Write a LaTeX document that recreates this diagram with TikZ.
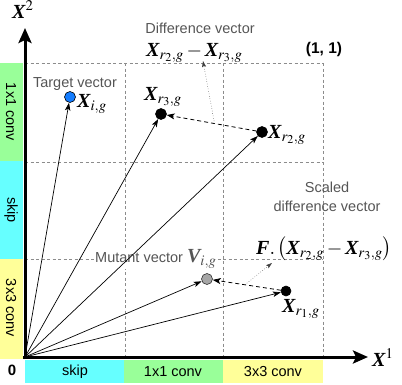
\documentclass[tikz,border=0pt]{standalone}
\usepackage{mathptmx}
\usepackage[no-math]{fontspec}
\newfontfamily\hv{Liberation Sans}
\newfontfamily\tms{Liberation Serif}
\usetikzlibrary{arrows.meta,calc}
\newcommand{\BX}{\mbox{\tms\bfseries\itshape X}}
\newcommand{\BV}{\mbox{\tms\bfseries\itshape V}}
\newcommand{\BF}{\mbox{\tms\bfseries\itshape F}}
\definecolor{cgreen}{RGB}{153,255,153}
\definecolor{ccyan}{RGB}{102,255,255}
\definecolor{cyellow}{RGB}{255,255,153}
\definecolor{cblue}{RGB}{20,125,255}
\definecolor{txtgray}{RGB}{85,85,85}
\begin{document}
\begin{tikzpicture}[x=1pt,y=-1pt,
  gridline/.style={black!45, dash pattern=on 3pt off 2.5pt, line width=0.5pt},
  axisline/.style={line width=3pt, -{Stealth[length=15pt,width=13pt,inset=3pt]}},
  vec/.style={line width=0.7pt, -{Stealth[length=8pt,width=5.5pt,inset=2pt]}},
  diffarrow/.style={line width=0.8pt, dash pattern=on 4pt off 3pt, -{Stealth[length=8pt,width=6pt,inset=2pt]}},
  pointer/.style={line width=0.5pt, dotted, black!75, -{Stealth[length=6pt,width=4pt,inset=1pt]}},
  ptnode/.style={circle, draw=black, line width=0.6pt, minimum size=11pt, inner sep=0pt},
  graylabel/.style={text=txtgray, font=\hv\fontsize{14.5}{16}\selectfont, inner sep=0pt},
  barlabel/.style={font=\hv\fontsize{14.5}{16}\selectfont, inner sep=0pt},
  mlabel/.style={font=\fontsize{20}{22}\selectfont, inner sep=0pt, anchor=base west},
]
\useasboundingbox (0,0) rectangle (402,384);
% colour bars
\fill[cgreen]  (0,63) rectangle (23,161);
\fill[ccyan]   (0,161) rectangle (23,259);
\fill[cyellow] (0,259) rectangle (23,359);
\fill[ccyan]   (25,360) rectangle (124,383);
\fill[cgreen]  (124,360) rectangle (223,383);
\fill[cyellow] (223,360) rectangle (323,383);
\node[barlabel, rotate=-90] (l1) at (11,112) {1x1 conv};
\node[barlabel, rotate=-90] (l2) at (11,210) {skip};
\node[barlabel, rotate=-90] (l3) at (11,308) {3x3 conv};
\node[barlabel] (b1) at (75,372) {skip};
\node[barlabel] (b2) at (173,372) {1x1 conv};
\node[barlabel] (b3) at (273,372) {3x3 conv};
% grid
\foreach \yy in {63,162,259} \draw[gridline] (25,\yy) -- (323,\yy);
\foreach \xx in {125,223,323} \draw[gridline] (\xx,63) -- (\xx,357);
% axes
\coordinate (O) at (25,357);
\coordinate (ytip) at (25,28);
\coordinate (xtip) at (368,357);
\draw[axisline] (25,359) -- (ytip);
\draw[axisline] (23,357) -- (xtip);
\node[mlabel] (x2) at (12,18) {$\BX^{2}$};
\node[mlabel] (x1) at (372,366) {$\BX^{1}$};
\node[font=\hv\bfseries\fontsize{15}{17}\selectfont, inner sep=0pt] (zero) at (12,370) {0};
\node[font=\hv\bfseries\fontsize{15.5}{17}\selectfont, inner sep=0pt, anchor=base] (one) at (324,53) {(1, 1)};
% points
\node[ptnode, fill=cblue] (xi) at (70,97) {};
\node[ptnode, fill=black] (xr3) at (161,114) {};
\node[ptnode, fill=black] (xr2) at (262,132) {};
\node[ptnode, fill=black, minimum size=10pt] (xr1) at (286,291) {};
\node[ptnode, fill=black!35, draw=black!80] (vi) at (207,279) {};
% labels
\node[graylabel, anchor=base] (tlab) at (75,87) {Target vector};
\node[mlabel] (xil) at (77,107) {$\BX_{i,g}$};
\node[mlabel] (xr3l) at (144,100) {$\BX_{r_3,g}$};
\node[mlabel] (xr2l) at (268,138) {$\BX_{r_2,g}$};
\node[mlabel] (xr1l) at (282,312) {$\BX_{r_1,g}$};
\node[graylabel, anchor=base] (dlab) at (200,33) {Difference vector};
\node[mlabel] (dmath) at (146,56) {$\BX_{r_2,g}-\BX_{r_3,g}$};
\node[graylabel, anchor=base west, fill=white, inner ysep=1pt, inner xsep=1pt] (mlab) at (94,262) {Mutant vector \fontsize{20}{22}\selectfont$\BV_{i,g}$};
\node[graylabel, anchor=base, align=center] (slab) at (327,211) {Scaled\\[2.5pt]difference vector};
\node[mlabel] (fmath) at (256,254) {$\BF.\,\bigl(\BX_{r_2,g}-\BX_{r_3,g}\bigr)$};
% vectors from origin
\draw[vec] (O) -- (xi);
\draw[vec] (O) -- (xr3);
\draw[vec] (O) -- (xr2);
\draw[vec] (O) -- (vi);
\draw[vec] (O) -- (xr1);
% difference vectors
\draw[diffarrow] (xr2) -- (xr3);
\draw[diffarrow] (xr1) -- (vi);
% pointers
\coordinate (dtip) at (203,61);
\coordinate (stip) at (272,263);
\draw[pointer] ($(xr2)!0.47!(xr3)$) -- (dtip);
\draw[pointer] ($(xr1)!0.52!(vi)$) -- (stip);
\end{tikzpicture}
\end{document}
